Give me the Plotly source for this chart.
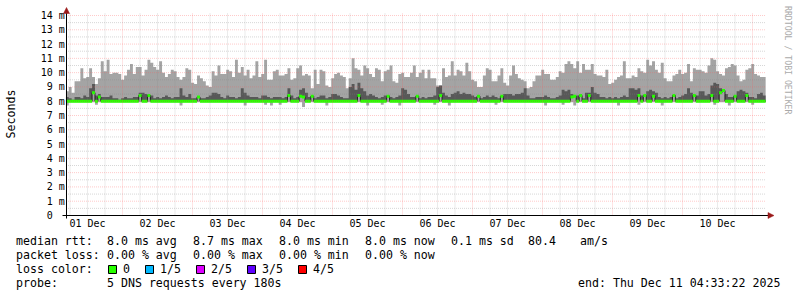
import numpy as np
import plotly.graph_objects as go

W, H = 797, 297

# ---------------- data ----------------
start_hour = 4.556          # Dec 01 04:33:22, hours since Dec 01 00:00
end_hour = 244.556          # Dec 11 04:33:22
day_labels = ['01 Dec', '02 Dec', '03 Dec', '04 Dec', '05 Dec',
              '06 Dec', '07 Dec', '08 Dec', '09 Dec', '10 Dec']
y_tick_values = list(range(0, 15))
y_tick_labels = ['0\u00a0\u00a0'] + [f'{v} m' for v in range(1, 15)]

# hourly smoke: highest ping (ms)
rtt_max = [
    8.7, 9.0, 8.6, 9.4, 9.4, 10.3, 9.6, 9.7, 10.3, 9.7,
    9.2, 9.6, 10.8, 10.1, 10.9, 9.9, 10.0, 10.0, 9.9, 9.5,
    9.8, 10.2, 10.6, 9.9, 10.4, 10.4, 9.8, 10.2, 10.9, 10.7,
    10.4, 10.2, 10.8, 10.0, 9.7, 9.9, 10.2, 10.1, 9.7, 9.5,
    9.7, 10.3, 10.2, 9.3, 9.2, 9.8, 9.6, 9.4, 9.1, 9.0,
    10.1, 9.8, 10.5, 9.9, 9.9, 10.2, 10.1, 9.7, 10.9, 10.0,
    10.4, 9.8, 10.2, 9.6, 9.8, 10.8, 9.7, 9.9, 10.9, 9.5,
    9.5, 10.1, 10.2, 9.8, 9.8, 9.9, 10.3, 9.5, 9.6, 10.3,
    10.5, 9.8, 9.9, 9.8, 8.9, 10.2, 9.2, 10.2, 10.1, 9.1,
    9.0, 9.6, 9.9, 10.0, 9.8, 9.7, 8.9, 9.6, 11.0, 10.3,
    10.2, 9.8, 10.5, 10.3, 9.9, 9.7, 10.3, 10.2, 9.4, 10.1,
    10.2, 10.5, 9.4, 9.3, 9.9, 10.0, 9.7, 9.7, 10.0, 10.5,
    9.7, 10.0, 10.2, 9.6, 10.2, 9.6, 9.6, 9.1, 9.1, 10.3,
    9.7, 9.8, 10.8, 9.8, 10.2, 10.1, 9.8, 10.7, 10.1, 9.5,
    9.4, 9.0, 9.0, 9.8, 10.3, 10.2, 9.4, 9.4, 9.8, 10.3,
    9.3, 9.1, 9.8, 10.5, 9.9, 9.6, 9.5, 9.4, 8.9, 9.0,
    9.4, 9.8, 9.8, 10.2, 9.9, 9.9, 9.5, 9.5, 9.7, 10.1,
    10.0, 10.6, 10.8, 10.6, 10.3, 10.8, 10.0, 10.6, 10.2, 10.2,
    10.6, 9.9, 9.8, 9.8, 9.7, 10.2, 9.2, 9.3, 9.5, 9.7,
    9.8, 10.8, 9.6, 9.6, 9.8, 9.7, 10.3, 10.1, 10.0, 10.9,
    10.5, 10.8, 10.2, 10.0, 10.7, 9.6, 9.4, 9.4, 9.8, 9.9,
    10.2, 9.9, 10.0, 10.6, 9.4, 10.3, 10.2, 10.2, 10.1, 10.0,
    10.5, 11.0, 10.9, 10.1, 9.9, 9.8, 10.3, 10.4, 10.6, 10.5,
    9.8, 9.4, 9.5, 10.2, 10.3, 10.6, 9.9, 9.8, 9.7, 9.7,
]

# hourly smoke: 4th ping (upper edge of the dark band)
rtt_p4 = [
    8.3, 8.2, 8.1, 8.3, 8.3, 8.2, 8.4, 8.3, 8.9, 9.2,
    8.4, 8.5, 8.3, 8.3, 8.3, 8.4, 8.2, 8.2, 8.1, 8.2,
    8.3, 8.2, 8.2, 8.3, 8.3, 8.6, 8.6, 8.5, 8.3, 8.4,
    8.2, 8.3, 8.2, 8.3, 8.4, 8.3, 8.2, 8.3, 8.3, 8.9,
    8.4, 8.3, 8.5, 8.2, 8.2, 8.3, 8.2, 8.2, 8.3, 8.4,
    8.6, 8.6, 8.5, 8.3, 8.2, 8.4, 8.3, 8.3, 8.2, 8.3,
    8.9, 8.6, 8.4, 8.3, 8.3, 8.3, 8.2, 8.4, 8.4, 8.3,
    8.2, 8.3, 8.3, 8.3, 8.2, 8.3, 8.9, 8.4, 8.2, 8.3,
    8.8, 8.9, 8.6, 8.3, 8.2, 8.2, 8.3, 8.4, 8.4, 8.2,
    8.3, 8.5, 8.5, 8.4, 8.3, 8.2, 8.2, 9.0, 9.2, 8.8,
    9.3, 8.9, 8.7, 8.4, 8.5, 8.4, 8.3, 8.2, 8.3, 8.4,
    8.4, 8.3, 8.2, 8.3, 8.4, 8.9, 8.8, 8.5, 8.3, 8.3,
    8.3, 8.2, 8.3, 8.2, 8.3, 8.3, 8.4, 9.0, 9.1, 8.6,
    8.4, 8.3, 8.5, 8.6, 8.7, 8.5, 8.6, 8.5, 8.5, 8.4,
    8.3, 8.2, 8.2, 8.3, 8.4, 8.3, 8.4, 8.3, 8.2, 8.3,
    8.5, 8.5, 8.5, 8.4, 8.5, 8.5, 8.6, 8.9, 8.4, 8.2,
    8.2, 8.3, 8.3, 8.3, 8.4, 8.3, 8.2, 8.2, 8.3, 8.4,
    8.8, 8.7, 8.8, 8.5, 8.3, 8.4, 8.3, 8.2, 8.6, 8.6,
    9.0, 8.6, 8.5, 8.3, 8.3, 8.2, 8.3, 8.2, 8.3, 8.2,
    8.3, 8.4, 8.3, 8.9, 8.9, 8.8, 8.9, 8.4, 8.3, 8.7,
    8.8, 8.7, 8.6, 8.3, 8.2, 8.3, 8.2, 8.3, 8.3, 8.2,
    8.3, 8.4, 8.5, 8.9, 8.6, 8.3, 8.4, 8.7, 8.7, 8.4,
    8.5, 9.1, 9.3, 9.2, 8.9, 8.7, 8.5, 8.3, 8.3, 8.4,
    8.7, 8.8, 8.7, 8.6, 8.3, 8.3, 8.2, 8.5, 8.6, 8.4,
]

# median rtt: 8.0 ms except a few hours
median_level = 8.0
median_blip_hours = [9, 11, 25, 28, 45, 76, 80, 81, 84, 100, 110, 120, 128,
                     141, 149, 173, 174, 176, 179, 196, 198, 201, 208, 215,
                     221, 224, 225, 229, 233]
median_blip_values = [8.6, 8.3, 8.4, 8.4, 8.3, 8.4, 8.35, 8.3, 8.35, 8.4, 8.35,
                      8.35, 8.4, 8.35, 8.35, 8.3, 8.35, 8.4, 8.4, 8.4, 8.4,
                      8.35, 8.4, 8.4, 8.4, 8.6, 8.75, 8.35, 8.4]

# lowest ping: just under 8 ms except a few dips
min_level = 7.93
min_dip_hours = [0, 10, 39, 61, 68, 70, 73, 81, 89, 103, 108, 114, 126, 131,
                 147, 164, 170, 174, 189, 196, 204, 222, 227, 235]
min_dip_values = [7.7, 7.75, 7.7, 7.7, 7.75, 7.7, 7.75, 7.6, 7.7, 7.7, 7.75,
                  7.7, 7.75, 7.7, 7.75, 7.7, 7.75, 7.7, 7.7, 7.75, 7.7, 7.75,
                  7.7, 7.75]

loss_labels = ['0', '1/5', '2/5', '3/5', '4/5']
loss_colors = ['#26ff00', '#00b8ff', '#dd00ff', '#5e00ff', '#ff0000']

# ---------------- derived series ----------------
n = len(rtt_max)
edges = start_hour + np.arange(n + 1)
median = np.full(n, median_level)
median[median_blip_hours] = median_blip_values
rtt_min = np.full(n, min_level)
rtt_min[min_dip_hours] = min_dip_values
p5 = np.array(rtt_max)
p4 = np.maximum(np.array(rtt_p4), median)


def step(v):
    v = np.asarray(v, dtype=float)
    return np.append(v, v[-1])


band = 0.105  # half thickness of the median band (ms)

fig = go.Figure()
common = dict(x=edges, mode='lines', line_shape='hv', hoverinfo='skip', showlegend=False)
fig.add_trace(go.Scatter(y=step(rtt_min), line=dict(width=0), **common))
fig.add_trace(go.Scatter(y=step(p5), line=dict(width=0), fill='tonexty', fillcolor='#a4a4a4', **common))
fig.add_trace(go.Scatter(y=step(median), line=dict(width=0), **common))
fig.add_trace(go.Scatter(y=step(p4), line=dict(width=0), fill='tonexty', fillcolor='#585858', **common))
fig.add_trace(go.Scatter(y=step(median), line=dict(width=1, color='#202020'), **common))
fig.add_trace(go.Scatter(y=step(median - band), line=dict(width=0), **common))
fig.add_trace(go.Scatter(y=step(median + band), line=dict(width=0), fill='tonexty', fillcolor=loss_colors[0], **common))

# ---------------- layout ----------------
def px(x):
    return x / W


def py(y):
    return 1 - y / H


mono = 'DejaVu Sans Mono'
major_grid = 'rgba(255,90,90,0.32)'
minor_grid = 'rgba(130,130,130,0.32)'
y_top = 14.175

fig.update_layout(
    template='none',
    width=W, height=H, autosize=False,
    margin=dict(l=0, r=0, t=0, b=0, pad=0),
    paper_bgcolor='white', plot_bgcolor='white',
    xaxis=dict(
        domain=[px(65.8), px(765.8)], range=[start_hour, end_hour], automargin=False,
        tickmode='array', tickvals=[24 * (i + 1) for i in range(len(day_labels))],
        ticktext=day_labels, ticklabelshift=-35, ticks='',
        tickfont=dict(family=mono, size=10, color='black'),
        showgrid=False, zeroline=False, showline=False, fixedrange=True,
    ),
    yaxis=dict(
        domain=[py(215.5), py(13)], range=[0, y_top], automargin=False,
        tickmode='array', tickvals=y_tick_values, ticktext=y_tick_labels, ticks='',
        tickfont=dict(family=mono, size=10, color='black'),
        showgrid=False, zeroline=False, showline=False, fixedrange=True,
    ),
)

shapes = []
# dotted grid drawn over the smoke (as rrdtool does)
for hr in range(6, int(end_hour) + 1, 6):
    if hr <= start_hour:
        continue
    col = major_grid if hr % 24 == 0 else minor_grid
    shapes.append(dict(type='line', xref='x', yref='paper', x0=hr, x1=hr,
                       y0=py(215.5), y1=py(13), layer='above',
                       line=dict(color=col, width=1, dash='1px,1px')))
for k in range(1, 29):
    v = k * 0.5
    col = major_grid if k % 2 == 0 else minor_grid
    shapes.append(dict(type='line', xref='paper', yref='y', x0=px(66), x1=px(766),
                       y0=v, y1=v, layer='above',
                       line=dict(color=col, width=1, dash='1px,1px')))

# axes with arrows
shapes.append(dict(type='line', xref='paper', yref='paper', x0=px(62.5), x1=px(768.5),
                   y0=py(215.5), y1=py(215.5), line=dict(color='black', width=1)))
shapes.append(dict(type='line', xref='paper', yref='paper', x0=px(66.5), x1=px(66.5),
                   y0=py(218.5), y1=py(12), line=dict(color='black', width=1)))
arrow_col = '#9b1b1b'


def tri(pts):
    return 'M ' + ' L '.join(f'{px(a):.5f},{py(b):.5f}' for a, b in pts) + ' Z'


shapes.append(dict(type='path', xref='paper', yref='paper',
                   path=tri([(63.5, 13.5), (69.5, 13.5), (66.5, 7.5)]),
                   fillcolor=arrow_col, line=dict(color=arrow_col, width=0.5)))
shapes.append(dict(type='path', xref='paper', yref='paper',
                   path=tri([(768, 212.5), (768, 218.5), (774, 215.5)]),
                   fillcolor=arrow_col, line=dict(color=arrow_col, width=0.5)))

annotations = []


def text(x, y, s, size=11.6, color='black', angle=0, xanchor='left'):
    annotations.append(dict(x=px(x), y=py(y), xref='paper', yref='paper', text=s,
                            showarrow=False, xanchor=xanchor, yanchor='middle',
                            textangle=angle, borderpad=0, borderwidth=0,
                            font=dict(family=mono, size=size, color=color)))


text(10.5, 114, 'Seconds', angle=-90, xanchor='center')
text(788, 60, 'RRDTOOL / TOBI OETIKER', size=8.2, color='#aaaaaa', angle=90, xanchor='center')

cols = [107, 193, 279, 365, 451]
text(16, 241, 'median rtt:')
for x, s in zip(cols, ['8.0 ms avg', '8.7 ms max', '8.0 ms min', '8.0 ms now', '0.1 ms sd']):
    text(x, 241, s)
text(528, 241, '80.4')
text(580, 241, 'am/s')

text(16, 255, 'packet loss:')
for x, s in zip(cols, ['0.00 % avg', '0.00 % max', '0.00 % min', '0.00 % now']):
    text(x, 255, s)

text(16, 269, 'loss color:')
box_left = [108.5, 145.5, 196.5, 247.5, 298.5]
for bl, lab, col in zip(box_left, loss_labels, loss_colors):
    shapes.append(dict(type='rect', xref='paper', yref='paper', x0=px(bl), x1=px(bl + 8),
                       y0=py(273.5), y1=py(265.5), fillcolor=col,
                       line=dict(color='black', width=1)))
    text(bl + 14.5, 269, lab)

text(16, 283, 'probe:')
text(107, 283, '5 DNS requests every 180s')
text(578, 283, 'end: Thu Dec 11 04:33:22 2025')

fig.update_layout(shapes=shapes, annotations=annotations)
fig.write_html('out.html')
